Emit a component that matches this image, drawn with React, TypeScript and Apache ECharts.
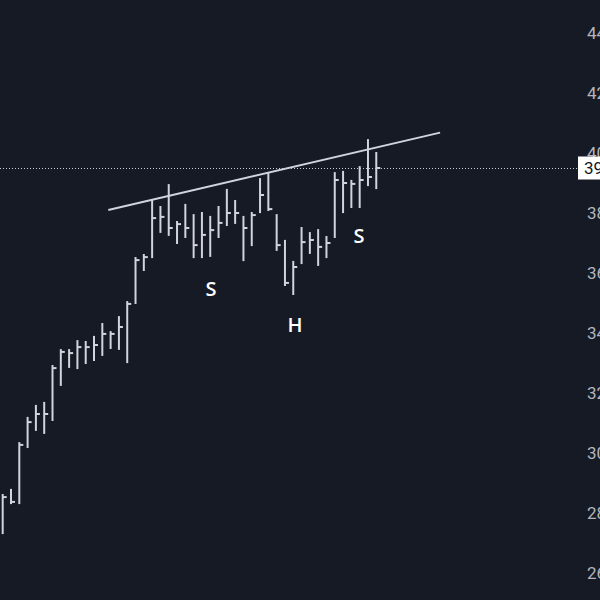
import { useEffect, useRef } from "react";
import * as echarts from "echarts";

// HLC bars (TradingView "HLC bars" style): high, low, close per session
const highs = [
  28.6, 28.77, 30.33, 31.17, 31.57, 31.67, 32.9, 33.43, 33.43, 33.73,
  33.7, 33.87, 34.3, 34.03, 34.53, 35.03, 36.5, 36.6, 38.43, 38.2,
  38.93, 37.7, 38.27, 37.93, 38.0, 37.87, 38.2, 38.77, 38.4, 37.87,
  38.0, 39.13, 39.3, 37.93, 37.07, 36.37, 37.5, 37.33, 37.43, 37.2,
  39.33, 39.37, 39.07, 39.53, 40.43, 40.0,
];
const lows = [
  27.33, 28.33, 28.33, 30.2, 30.77, 30.67, 31.1, 32.27, 32.87, 32.83,
  33.0, 33.1, 33.27, 33.5, 33.47, 33.03, 35.0, 36.1, 36.53, 37.37,
  37.27, 37.0, 37.2, 36.53, 36.53, 36.57, 37.2, 37.6, 37.67, 36.43,
  36.93, 38.03, 38.1, 36.77, 35.6, 35.3, 36.33, 36.67, 36.27, 36.53,
  37.2, 38.03, 38.2, 38.2, 38.93, 38.83,
];
const closes = [
  28.53, 28.37, 30.27, 31.03, 31.3, 31.3, 32.83, 33.37, 33.33, 33.53,
  33.53, 33.6, 33.97, 33.97, 34.2, 34.97, 36.43, 36.53, 37.83, 37.87,
  37.5, 37.63, 37.5, 36.93, 37.27, 37.43, 37.67, 38.0, 38.0, 37.5,
  37.93, 38.6, 38.13, 36.93, 35.67, 36.2, 37.03, 37.1, 36.87, 37.0,
  39.1, 39.0, 38.97, 39.1, 39.2, 39.5,
];

// Neckline / resistance trendline (bar index, price)
const trendIdx = [12.72, 52.69];
const trendPrice = [38.1, 40.68];

// Pattern annotations
const patternLabels = ["S", "H", "S"];

const BG = "#161a25";
const FG = "#d1d4dc";

export default function App() {
  const ref = useRef<HTMLDivElement>(null);

  useEffect(() => {
    const chart = echarts.init(ref.current!, null, { renderer: "svg" });
    const data = highs.map((h, i) => [i, h, lows[i], closes[i]]);
    const last = closes[closes.length - 1];

    const renderItem = (_params: any, api: any) => {
      const x = api.value(0);
      const hi = api.coord([x, api.value(1)]);
      const lo = api.coord([x, api.value(2)]);
      const c = api.coord([x, api.value(3)]);
      const style = { stroke: FG, lineWidth: 2 };
      return {
        type: "group",
        children: [
          { type: "line", shape: { x1: hi[0], y1: hi[1] - 1, x2: lo[0], y2: lo[1] + 1 }, style },
          { type: "line", shape: { x1: c[0], y1: c[1], x2: c[0] + 4, y2: c[1] }, style },
        ],
      };
    };

    const labelPos = [
      [211, 288],
      [295, 324],
      [359, 235],
    ];

    chart.setOption({
      animation: false,
      backgroundColor: BG,
      grid: {
        left: 0,
        top: -27,
        width: 578,
        height: 660,
        containLabel: false,
        outerBoundsMode: "none",
      },
      xAxis: { type: "value", min: -0.325, max: 69.3, show: false },
      yAxis: {
        type: "value",
        position: "right",
        min: 24,
        max: 46,
        interval: 2,
        splitLine: { show: false },
        axisLine: { show: false },
        axisTick: { show: false },
        axisLabel: {
          color: "#b2b5be",
          fontSize: 17,
          fontFamily: "Roboto",
          margin: 9,
          formatter: (v: number) => v.toFixed(2),
        },
      },
      series: [
        {
          type: "custom",
          renderItem,
          data,
          encode: { x: 0, y: [1, 2, 3] },
          markLine: {
            silent: true,
            symbol: "none",
            data: [{ yAxis: last }],
            lineStyle: { color: "#c9ccd4", type: [1, 2], width: 1 },
            label: {
              position: "end",
              distance: 0,
              formatter: () => last.toFixed(2),
              backgroundColor: "#ffffff",
              color: "#131722",
              padding: [3, 6, 3, 6],
              fontSize: 17,
              fontFamily: "Roboto",
            },
          },
        },
        {
          type: "line",
          data: trendIdx.map((x, i) => [x, trendPrice[i]]),
          symbol: "none",
          lineStyle: { color: FG, width: 2 },
        },
      ],
      graphic: patternLabels.map((t, i) => ({
        type: "text",
        x: labelPos[i][0],
        y: labelPos[i][1],
        style: {
          text: t,
          fill: "#ffffff",
          font: "600 20px 'Open Sans'",
          textAlign: "center",
          textVerticalAlign: "middle",
        },
      })),
    });

    return () => chart.dispose();
  }, []);

  return (
    <div
      ref={ref}
      style={{ position: "fixed", left: 0, top: 0, width: 600, height: 600, background: BG }}
    />
  );
}
